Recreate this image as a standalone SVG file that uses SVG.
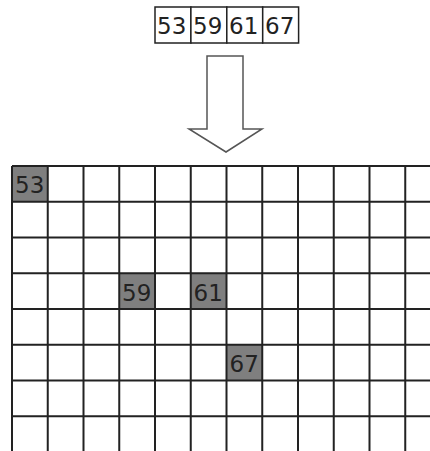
<svg xmlns="http://www.w3.org/2000/svg" width="430" height="451" viewBox="0 0 430 451">
<style>
.box{fill:#fff;stroke:#222;stroke-width:1.5}
.cell{fill:#7f7f7f;stroke:none}
.grid{stroke:#222;stroke-width:2;fill:none}
.t{font-family:"DejaVu Sans",sans-serif;font-size:23px;fill:#222}
.arrow{fill:#fff;stroke:#555;stroke-width:1.5;stroke-linejoin:miter}
</style>
<rect width="430" height="451" fill="#fff"/>
<g id="input">
<rect class="box" x="155" y="7" width="35.9" height="36"/>
<rect class="box" x="190.9" y="7" width="35.9" height="36"/>
<rect class="box" x="226.8" y="7" width="35.9" height="36"/>
<rect class="box" x="262.7" y="7" width="35.9" height="36"/>
<text class="t" x="157" y="34">53</text>
<text class="t" x="193" y="34">59</text>
<text class="t" x="229" y="34">61</text>
<text class="t" x="265" y="34">67</text>
</g>
<g id="arrow">
<polygon class="arrow" points="207,56 243,56 243,129 262,129 226,152 189,129 207,129"/>
</g>
<g id="cells">
<rect class="cell" x="12" y="166" width="35.75" height="35.75"/>
<rect class="cell" x="119.25" y="273.25" width="35.75" height="35.75"/>
<rect class="cell" x="190.75" y="273.25" width="35.75" height="35.75"/>
<rect class="cell" x="226.5" y="344.75" width="35.75" height="35.75"/>
<text class="t" x="15" y="193">53</text>
<text class="t" x="122" y="300.5">59</text>
<text class="t" x="193.5" y="300.5">61</text>
<text class="t" x="229.5" y="372">67</text>
</g>
<g id="grid" class="grid">
<path d="M12,166V452M47.75,166V452M83.5,166V452M119.25,166V452M155,166V452M190.75,166V452M226.5,166V452M262.25,166V452M298,166V452M333.75,166V452M369.5,166V452M405.25,166V452"/>
<path d="M12,166H431M12,201.75H431M12,237.5H431M12,273.25H431M12,309H431M12,344.75H431M12,380.5H431M12,416.25H431"/>
</g>
</svg>
